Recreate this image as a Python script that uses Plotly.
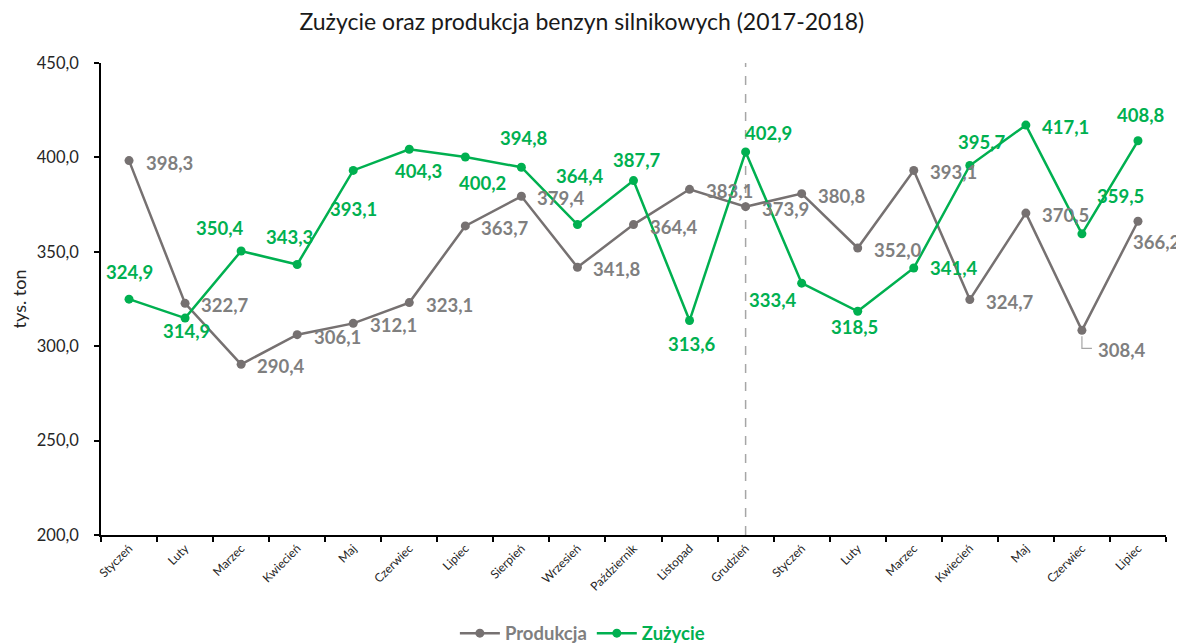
import plotly.graph_objects as go

months = ["Styczeń", "Luty", "Marzec", "Kwiecień", "Maj", "Czerwiec", "Lipiec",
          "Sierpień", "Wrzesień", "Październik", "Listopad", "Grudzień",
          "Styczeń", "Luty", "Marzec", "Kwiecień", "Maj", "Czerwiec", "Lipiec"]
produkcja = [398.3, 322.7, 290.4, 306.1, 312.1, 323.1, 363.7, 379.4, 341.8, 364.4,
             383.1, 373.9, 380.8, 352.0, 393.1, 324.7, 370.5, 308.4, 366.2]
zuzycie = [324.9, 314.9, 350.4, 343.3, 393.1, 404.3, 400.2, 394.8, 364.4, 387.7,
           313.6, 402.9, 333.4, 318.5, 341.4, 395.7, 417.1, 359.5, 408.8]
y_ticks = [200, 250, 300, 350, 400, 450]
y_ticktext = ["200,0", "250,0", "300,0", "350,0", "400,0", "450,0"]
divider_index = 11  # Grudzień 2017

title = "Zużycie oraz produkcja benzyn silnikowych (2017-2018)"

# label pixel offsets (dx right, dy down) relative to each point
prod_off = [(40, 2)] * 17 + [(40, 20), (19, 21)]
zuz_off = [(0, -27), (1, 13), (-21, -23), (-8, -27), (0, 39), (9, 22), (17, 26),
           (3, -29), (3, -49), (3, -21), (2, 23), (23, -19), (-29, 17), (-3, 16),
           (40, 0), (12, -24), (40, 2), (39, -38), (3, -26)]

GRAY_LINE = "#767171"
GRAY_TXT = "#7f7f7f"
GREEN = "#00b050"
FONT = "Lato"

x = list(range(len(months)))
Y0, Y1 = 200, 450

def fmt(v):
    return f"{v:.1f}".replace(".", ",")

def px(i):
    return (i + 0.5) / len(months)

def py(v):
    return (v - Y0) / (Y1 - Y0)

fig = go.Figure()
fig.add_trace(go.Scatter(
    x=x, y=produkcja, mode="lines+markers",
    name=f"<b><span style='color:{GRAY_TXT}'>Produkcja</span></b>",
    line=dict(color=GRAY_LINE, width=2.5),
    marker=dict(color=GRAY_LINE, size=9),
))
fig.add_trace(go.Scatter(
    x=x, y=zuzycie, mode="lines+markers",
    name=f"<b><span style='color:{GREEN}'>Zużycie</span></b>",
    line=dict(color=GREEN, width=2.5),
    marker=dict(color=GREEN, size=9),
))

annotations = []
for series, offs, col in ((produkcja, prod_off, GRAY_TXT), (zuzycie, zuz_off, GREEN)):
    for i, v in enumerate(series):
        dx, dy = offs[i]
        annotations.append(dict(x=px(i), y=py(v), xref="paper", yref="paper", text=fmt(v),
                                xanchor="center", yanchor="middle",
                                showarrow=False, xshift=dx, yshift=-dy,
                                font=dict(family=FONT, size=18.5, color=col, weight="bold")))

shapes = [
    dict(type="line", xref="x", yref="paper", x0=divider_index, x1=divider_index,
         y0=0, y1=1, line=dict(color="#a6a6a6", width=1.5, dash="dash"), layer="below"),
    dict(type="path", xref="x", yref="y", xsizemode="pixel", ysizemode="pixel",
         xanchor=17, yanchor=produkcja[17], path="M 0,-6 L 0,-18 L 10,-18",
         line=dict(color="#a6a6a6", width=1.2)),
]

fig.update_layout(
    width=1176, height=636,
    margin=dict(l=93, r=18, t=55, b=109, autoexpand=False),
    paper_bgcolor="white", plot_bgcolor="white",
    font=dict(family=FONT, color="#262626"),
    title=dict(text=title, x=0.488, xanchor="center", y=0.9906, yanchor="top",
               font=dict(family=FONT, size=23, color="#1a1a1a")),
    showlegend=True,
    legend=dict(orientation="h", x=0.452, xanchor="center", y=-0.209, yanchor="middle",
                font=dict(family=FONT, size=18.5), itemwidth=40, tracegroupgap=10),
    annotations=annotations,
    shapes=shapes,
)
fig.update_xaxes(
    range=[-0.5, len(months) - 0.5], automargin=False,
    tickmode="array", tickvals=x, ticktext=months, ticks="",
    tickangle=-45, tickfont=dict(family=FONT, size=12, color="#262626"),
    showline=True, linecolor="black", linewidth=1.5, showgrid=False, zeroline=False,
    minor=dict(tickvals=[i - 0.5 for i in range(len(months) + 1)], ticks="outside",
               ticklen=5, tickcolor="black", tickwidth=1.5, showgrid=False),
)
fig.update_yaxes(
    range=[Y0, Y1], automargin=False, tickmode="array", tickvals=y_ticks, ticktext=y_ticktext,
    ticks="outside", ticklen=5, tickcolor="black", tickwidth=1.5,
    tickfont=dict(family=FONT, size=16.5, color="#262626"), ticklabelstandoff=12,
    showline=True, linecolor="black", linewidth=1.8, showgrid=False, zeroline=False,
    title=dict(text="tys. ton", font=dict(family=FONT, size=18, color="#262626"), standoff=14),
)

fig.write_html("out.html")
